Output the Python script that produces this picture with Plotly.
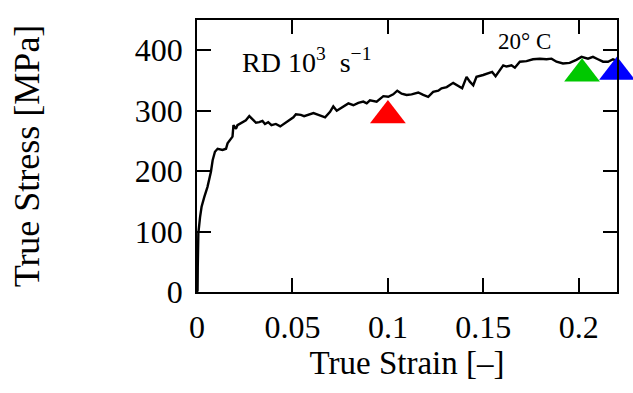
import plotly.graph_objects as go

strain = [0.0, 0.0003, 0.0004, 0.0007, 0.0016, 0.0024, 0.0038, 0.0055, 0.0073, 0.0082, 0.0094,
          0.0108, 0.0134, 0.0152, 0.0160, 0.0174, 0.0186, 0.0191, 0.0204, 0.0212, 0.0238,
          0.0256, 0.0274, 0.0291, 0.0309, 0.0326, 0.0343, 0.0356, 0.0373, 0.0390, 0.0413,
          0.0436, 0.0453, 0.0483, 0.0505, 0.0518, 0.0544, 0.0561, 0.0610, 0.0636, 0.0671,
          0.0697, 0.0714, 0.0732, 0.0758, 0.0793, 0.0819, 0.0845, 0.0871, 0.0889, 0.0906,
          0.0941, 0.0976, 0.1002, 0.1028, 0.1049, 0.1072, 0.1098, 0.1124, 0.1159, 0.1185,
          0.1211, 0.1237, 0.1264, 0.1281, 0.1308, 0.1342, 0.1368, 0.1389, 0.1412, 0.1429,
          0.1447, 0.1464, 0.1499, 0.1525, 0.1546, 0.1564, 0.1586, 0.1604, 0.1621, 0.1647,
          0.1665, 0.1691, 0.1726, 0.1760, 0.1796, 0.1831, 0.1857, 0.1883, 0.1917, 0.1952,
          0.1987, 0.2014, 0.2048, 0.2074, 0.2100, 0.2127, 0.2153, 0.2179, 0.2196]
stress = [0, 3, 41, 97, 124, 141, 157, 174, 199, 218, 232,
          237, 235, 237, 246, 251, 257, 276, 270, 276, 281,
          284, 291, 285, 280, 281, 283, 278, 281, 276, 278,
          274, 278, 285, 289, 294, 293, 291, 296, 293, 289,
          298, 307, 300, 305, 312, 309, 313, 315, 312, 317,
          315, 324, 323, 327, 333, 328, 326, 327, 330, 326,
          323, 331, 333, 337, 339, 346, 341, 337, 356, 348,
          342, 356, 359, 362, 364, 357, 367, 375, 373, 375,
          371, 381, 382, 385, 386, 385, 386, 381, 378, 379,
          384, 389, 386, 389, 385, 381, 381, 385, 383]

marker_strain = [0.100, 0.2017, 0.2200]
marker_stress = [292, 361, 364]
marker_colors = ["#ff0000", "#00c800", "#0000ff"]

x_tickvals = [0, 0.05, 0.1, 0.15, 0.2]
x_ticktext = ["0", "0.05", "0.1", "0.15", "0.2"]
y_tickvals = [0, 100, 200, 300, 400]
y_ticktext = ["0", "100", "200", "300", "400"]

FONT = "Liberation Serif"

fig = go.Figure()
fig.add_trace(go.Scatter(x=strain, y=stress, mode="lines",
                         line=dict(color="black", width=2.4), showlegend=False,
                         hoverinfo="skip"))
fig.add_trace(go.Scatter(x=marker_strain, y=marker_stress, mode="markers",
                         marker=dict(symbol="triangle-up", size=31, color=marker_colors,
                                     line=dict(width=0)),
                         showlegend=False, cliponaxis=False, hoverinfo="skip"))

axis_common = dict(showline=True, linecolor="black", linewidth=1.5, mirror="ticks",
                   ticks="inside", ticklen=14, tickwidth=1.5, tickcolor="black",
                   showgrid=False, zeroline=False,
                   tickfont=dict(family=FONT, size=32, color="black"))

fig.update_xaxes(range=[0, 0.22], tickmode="array", tickvals=x_tickvals, ticktext=x_ticktext,
                 title=dict(text="True Strain [–]", font=dict(family=FONT, size=33, color="black"),
                            standoff=6),
                 ticklabelstandoff=6, **axis_common)
fig.update_yaxes(range=[0, 450], tickmode="array", tickvals=y_tickvals, ticktext=y_ticktext,
                 title=dict(text="True Stress [MPa]", font=dict(family=FONT, size=36, color="black"),
                            standoff=84),
                 ticklabelstandoff=6, **axis_common)

fig.add_annotation(x=0.0225, y=383, xref="x", yref="y", xanchor="left", yanchor="middle",
                   text="RD&nbsp;10<sup>3</sup>&nbsp;&nbsp;s<sup>−1</sup>", showarrow=False,
                   font=dict(family=FONT, size=28, color="black"))
fig.add_annotation(x=0.1715, y=415, xref="x", yref="y", xanchor="center", yanchor="middle",
                   text="20° C", showarrow=False,
                   font=dict(family=FONT, size=23, color="black"))

fig.update_layout(width=633, height=393, margin=dict(l=197, r=16, t=20, b=101),
                  paper_bgcolor="white", plot_bgcolor="white",
                  font=dict(family=FONT, color="black"))

fig.write_html("out.html", config={"displayModeBar": False},
               post_script="document.body.style.margin='0';document.body.style.padding='0';")
